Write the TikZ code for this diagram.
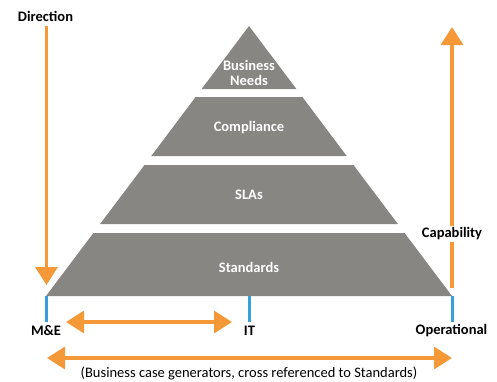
\documentclass[tikz,border=0pt]{standalone}
\usepackage{fontspec}
\setmainfont{Carlito}
\usetikzlibrary{arrows.meta}
\definecolor{tiergray}{RGB}{135,134,131}
\definecolor{arroworange}{RGB}{245,152,56}
\definecolor{tickblue}{RGB}{55,160,220}
\tikzset{
  tier/.style={fill=tiergray, draw=none},
  tiertext/.style={text=white, font=\fontsize{14.5}{15.5}\selectfont\bfseries, align=center, inner sep=0pt},
  lbl/.style={text=black, font=\fontsize{14.5}{15.5}\selectfont\bfseries, inner sep=0pt},
  oarrow/.style={draw=arroworange, line width=3.4pt, -{Triangle[length=18pt,width=22pt]}},
  odarrow/.style={draw=arroworange, line width=3.4pt, {Triangle[length=18pt,width=22pt]}-{Triangle[length=18pt,width=22pt]}},
  tick/.style={draw=tickblue, line width=3pt}
}
\begin{document}
\begin{tikzpicture}[x=1pt, y=-1pt]
\useasboundingbox (0,0) rectangle (497,381);
% pyramid tiers
\fill[tier] (249,26) -- (296.4,89) -- (201.6,89) -- cycle;
\fill[tier] (195.6,97) -- (302.4,97) -- (346.7,156) -- (151.3,156) -- cycle;
\fill[tier] (144.5,165) -- (353.5,165) -- (397.9,224) -- (100.1,224) -- cycle;
\fill[tier] (93.4,233) -- (404.6,233) -- (452,296) -- (46,296) -- cycle;
% tier labels
\node[tiertext] (bn) at (249,73) {Business\\[-1pt]Needs};
\node[tiertext] (comp) at (249,128) {Compliance};
\node[tiertext] (sla) at (249,195) {SLAs};
\node[tiertext] (std) at (249,267) {Standards};
% coordinates
\coordinate (me) at (46.5,296);
\coordinate (it) at (249,296);
\coordinate (op) at (452,296);
\coordinate (meT) at (46.5,322);
\coordinate (itT) at (249,322);
\coordinate (opT) at (452,322);
\coordinate (dirTop) at (46.5,26);
\coordinate (dirTip) at (46.5,285);
\coordinate (capBot) at (452,288);
\coordinate (capTip) at (452,27);
\coordinate (a1L) at (66,322);
\coordinate (a1R) at (232,322);
\coordinate (a2L) at (47,358);
\coordinate (a2R) at (452,358);
% ticks
\draw[tick] (me) -- (meT);
\draw[tick] (it) -- (itT);
\draw[tick] (op) -- (opT);
% arrows
\draw[oarrow] (dirTop) -- (dirTip);
\draw[oarrow] (capBot) -- (capTip);
\draw[odarrow] (a1L) -- (a1R);
\draw[odarrow] (a2L) -- (a2R);
% labels
\node[lbl] (dir) at (45.5,16) {Direction};
\node[lbl, fill=white, inner sep=2pt] (cap) at (452,234) {Capability};
\node[lbl] (melbl) at (46,331) {M\&E};
\node[lbl] (itlbl) at (249.5,331) {IT};
\node[lbl] (oplbl) at (451.5,331) {Operational};
\node[text=black, font=\fontsize{14.5}{15.5}\selectfont, inner sep=0pt] (note) at (249,373) {(Business case generators, cross referenced to Standards)};
\end{tikzpicture}
\end{document}
